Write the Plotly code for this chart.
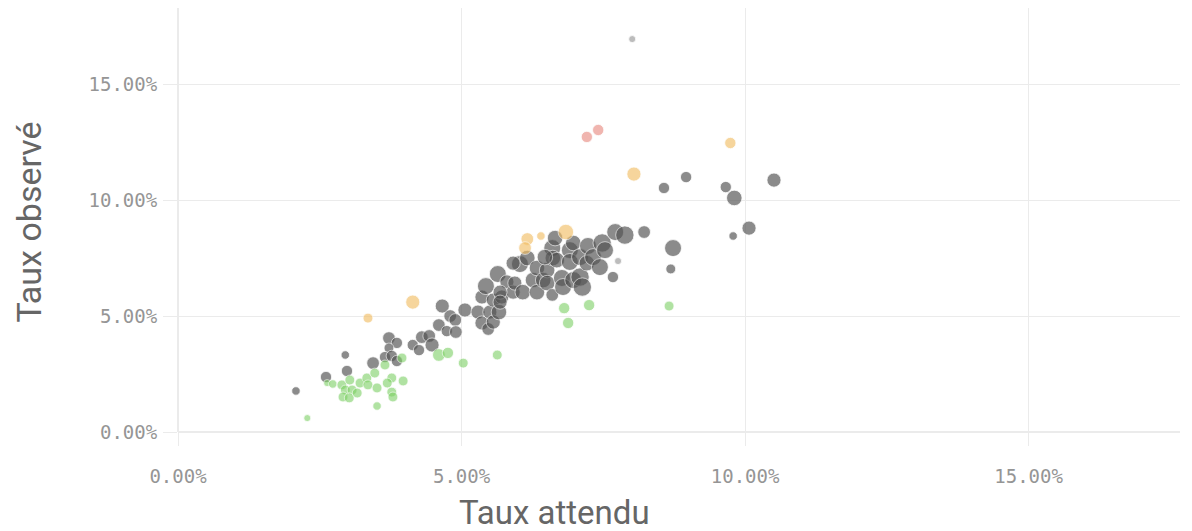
import plotly.graph_objects as go

# ---- data (taux en %) ----
gris_x = [2.08, 2.61, 2.95, 2.98, 3.44, 3.72, 3.86, 3.72, 3.65, 3.77, 3.86, 4.14, 4.25, 4.30, 4.43,
          4.48, 4.60, 4.66, 4.74, 4.80, 4.89, 4.90, 5.06, 5.29, 5.36, 5.36, 5.43, 5.47, 5.50, 5.56,
          5.56, 5.64, 5.66, 5.71, 5.80, 5.91, 5.94, 6.03, 6.08, 6.16, 6.26, 6.33, 6.33, 6.44, 6.51,
          6.51, 6.60, 6.61, 6.60, 6.65, 6.68, 6.77, 6.79, 6.91, 6.91, 6.97, 6.97, 7.09, 7.09, 7.13,
          7.21, 7.23, 7.32, 7.44, 7.48, 7.53, 7.67, 7.71, 7.88, 8.22, 8.73, 8.69, 8.57, 8.96, 9.66,
          9.81, 10.51, 10.07, 9.79, 6.47, 5.91, 5.68, 5.68]
gris_y = [1.77, 2.37, 3.32, 2.63, 2.97, 4.05, 3.84, 3.62, 3.23, 3.28, 3.06, 3.75, 3.53, 4.09, 4.14,
          3.75, 4.61, 5.43, 4.35, 5.00, 4.83, 4.31, 5.26, 5.17, 5.82, 4.70, 6.29, 4.44, 5.17, 5.69,
          4.74, 6.81, 5.17, 5.82, 6.47, 6.03, 6.42, 7.24, 6.03, 7.50, 6.55, 6.03, 7.07, 6.55, 6.98,
          6.42, 7.93, 7.50, 5.91, 8.36, 7.41, 6.64, 6.25, 7.84, 7.33, 8.15, 6.55, 7.54, 6.68, 6.25,
          7.28, 8.02, 7.54, 7.11, 8.15, 7.84, 6.68, 8.62, 8.49, 8.62, 7.93, 7.03, 10.52, 10.99, 10.56,
          10.09, 10.86, 8.79, 8.45, 7.54, 7.28, 6.03, 5.60]
gris_n = [144, 256, 144, 256, 324, 324, 256, 196, 256, 256, 256, 256, 256, 324, 324,
          400, 324, 400, 256, 324, 324, 324, 400, 400, 400, 400, 576, 324, 400, 400,
          400, 576, 484, 400, 400, 400, 400, 576, 484, 484, 484, 484, 484, 484, 484,
          484, 576, 484, 324, 484, 484, 576, 576, 576, 576, 484, 576, 576, 676, 676,
          484, 576, 576, 576, 676, 576, 256, 576, 676, 324, 576, 196, 256, 256, 256,
          484, 400, 400, 144, 484, 400, 400, 400]

grisclair_x = [8.01, 7.76]
grisclair_y = [16.94, 7.37]
grisclair_n = [100, 100]

vert_x = [2.28, 2.63, 2.73, 2.89, 3.03, 2.95, 3.07, 3.21, 3.33, 3.35, 2.91, 3.02, 3.16, 3.47, 3.51,
          3.65, 3.77, 3.69, 3.97, 3.77, 3.79, 3.51, 3.95, 4.60, 4.76, 5.03, 5.63, 6.81, 7.25, 6.88, 8.66]
vert_y = [0.60, 2.11, 2.07, 2.03, 2.24, 1.81, 1.81, 2.11, 2.33, 2.03, 1.51, 1.47, 1.68, 2.54, 1.90,
          2.89, 2.33, 2.11, 2.20, 1.72, 1.51, 1.12, 3.19, 3.32, 3.41, 2.97, 3.32, 5.34, 5.47, 4.70, 5.43]
vert_n = [100, 100, 144, 196, 196, 196, 196, 196, 196, 196, 196, 196, 196, 196, 196,
          196, 196, 196, 196, 196, 196, 144, 196, 324, 256, 196, 196, 256, 256, 256, 196]

orange_x = [3.35, 4.14, 6.16, 6.12, 6.40, 6.84, 8.04, 9.74]
orange_y = [4.91, 5.60, 8.32, 7.93, 8.45, 8.62, 11.12, 12.46]
orange_n = [196, 400, 324, 324, 144, 484, 400, 256]

rouge_x = [7.21, 7.41]
rouge_y = [12.72, 13.02]
rouge_n = [256, 256]

tick_vals = [0, 5, 10, 15]
tick_text = ["0.00%", "5.00%", "10.00%", "15.00%"]

series = [
    ("gris", gris_x, gris_y, gris_n, "rgba(82,82,82,0.95)"),
    ("gris clair", grisclair_x, grisclair_y, grisclair_n, "rgba(150,150,150,0.9)"),
    ("vert", vert_x, vert_y, vert_n, "rgba(125,208,100,0.85)"),
    ("orange", orange_x, orange_y, orange_n, "rgba(242,190,100,0.9)"),
    ("rouge", rouge_x, rouge_y, rouge_n, "rgba(232,140,130,0.9)"),
]

fig = go.Figure()
for name, xs, ys, ns, col in series:
    fig.add_trace(go.Scatter(
        x=xs, y=ys, mode="markers", name=name,
        marker=dict(size=ns, sizemode="area", sizeref=4, color=col,
                    line=dict(color="rgba(255,255,255,0.8)", width=1)),
        cliponaxis=False,
    ))

grid = "#ebebeb"
tickfont = dict(family="DejaVu Sans Mono", size=19, color="#959595")
fig.update_layout(
    width=1192, height=531,
    margin=dict(l=170, r=20, t=0, b=107),
    plot_bgcolor="white", paper_bgcolor="white",
    showlegend=False,
    xaxis=dict(range=[0, 17.67], tickvals=tick_vals, ticktext=tick_text,
               showgrid=True, gridcolor=grid, zeroline=True, zerolinecolor=grid,
               ticks="outside", ticklen=13, tickcolor=grid, tickfont=tickfont,
               ticklabelstandoff=14, showline=False),
    yaxis=dict(range=[0, 18.28], tickvals=tick_vals, ticktext=tick_text,
               showgrid=True, gridcolor=grid, zeroline=True, zerolinecolor=grid,
               ticks="outside", ticklen=14, tickcolor=grid, tickfont=tickfont,
               ticklabelstandoff=2, showline=False),
    annotations=[
        dict(text="Taux attendu", xref="paper", yref="paper", x=0.376, y=-0.191,
             xanchor="center", yanchor="middle", showarrow=False,
             font=dict(family="Roboto", size=33, color="#666666")),
        dict(text="Taux observé", xref="paper", yref="paper", x=-0.1487, y=0.494,
             xanchor="center", yanchor="middle", showarrow=False, textangle=-90,
             borderpad=0,
             font=dict(family="Roboto", size=34, color="#666666")),
    ],
)

fig.write_html("out.html")
